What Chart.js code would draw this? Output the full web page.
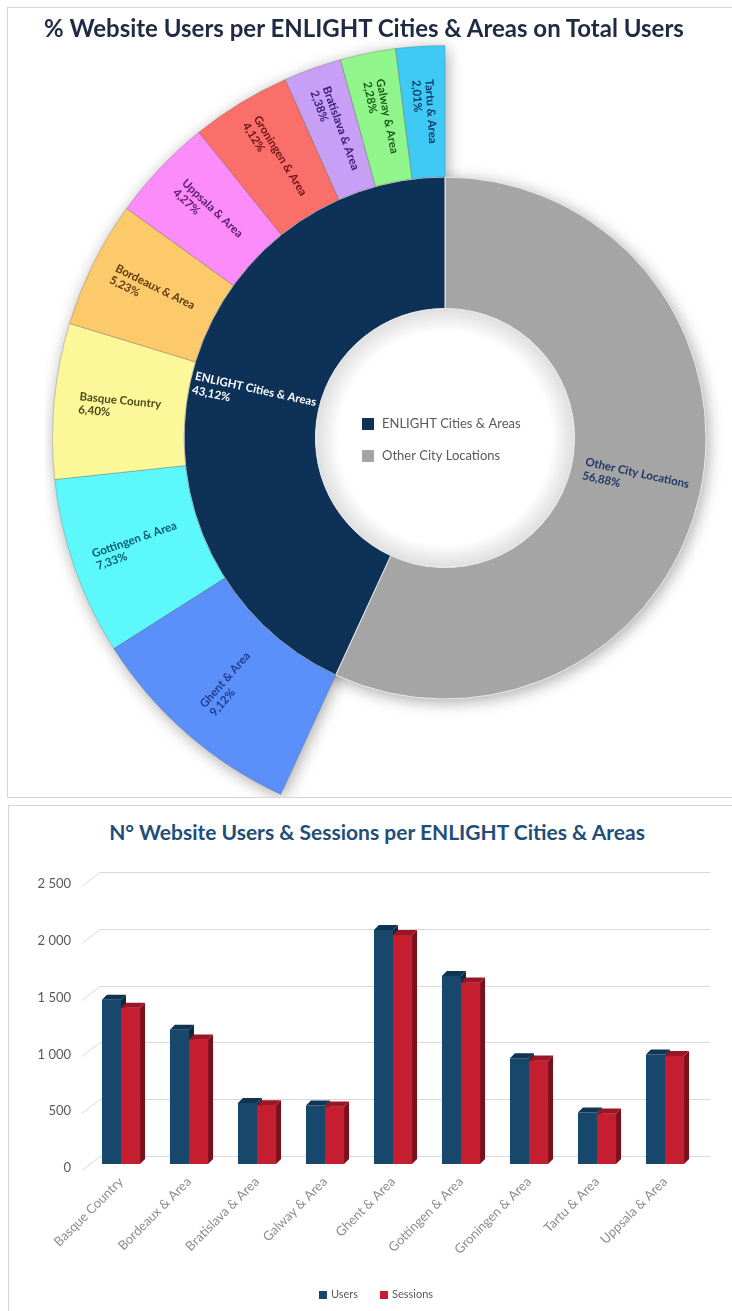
<!DOCTYPE html>
<html>
<head>
<meta charset="utf-8">
<script src="https://cdn.jsdelivr.net/npm/chart.js@4.4.1/dist/chart.umd.min.js"></script>
<style>
  html, body { margin: 0; padding: 0; background: #fff; overflow: hidden; }
  body { width: 732px; height: 1311px; position: relative; font-family: Lato, sans-serif; }
  #pieBox { position: absolute; left: 7px; top: 7px; width: 740px; height: 789px; border: 1px solid #d4d4d4; overflow: hidden; }
  #pieTitle { position: absolute; left: 0; top: 5px; width: 712px; text-align: center; font: bold 24px Lato, sans-serif; color: #1f2a44; z-index: 2; }
  #pieWrap { position: absolute; left: 37px; top: 30px; width: 800px; height: 800px; }
  #barBox { position: absolute; left: 8px; top: 805px; width: 740px; height: 520px; border: 1px solid #d4d4d4; }
  #barTitle { position: absolute; left: 0; top: 13px; width: 736px; line-height: 25px; text-align: center; font: bold 21px Lato, sans-serif; color: #1f4e79; }
  #barWrap { position: absolute; left: 0; top: 0; width: 723px; height: 505px; }
  #barLegend { position: absolute; left: 0; top: 481px; width: 734px; text-align: center; font: 11px Lato, sans-serif; color: #595959; line-height: 14px; }
  #barLegend span.item { display: inline-block; margin: 0 11px; }
  #barLegend span.box { display: inline-block; width: 8px; height: 8px; margin-right: 4px; vertical-align: -0.5px; }
</style>
</head>
<body>
<div id="pieBox">
  <div id="pieTitle">% Website Users per ENLIGHT Cities &amp; Areas on Total Users</div>
  <div id="pieWrap"><canvas id="pieChart"></canvas></div>
</div>
<div id="barBox">
  <div id="barTitle">N° Website Users &amp; Sessions per ENLIGHT Cities &amp; Areas</div>
  <div id="barWrap"><canvas id="barChart"></canvas></div>
  <div id="barLegend"></div>
</div>
<script>
// --- data: share of users (%), inner ring goes clockwise from 12 o'clock
const groupNames = ['Other City Locations', 'ENLIGHT Cities & Areas'];
const groupShares = [56.88, 43.12];

// outer ring, only over the ENLIGHT part
const cityNames = ['Ghent & Area', 'Gottingen & Area', 'Basque Country', 'Bordeaux & Area',
  'Uppsala & Area', 'Groningen & Area', 'Bratislava & Area', 'Galway & Area', 'Tartu & Area'];
const cityShares = [9.12, 7.33, 6.40, 5.23, 4.27, 4.12, 2.38, 2.28, 2.01];

// --- data: users & sessions per city
const barCities = ['Basque Country', 'Bordeaux & Area', 'Bratislava & Area', 'Galway & Area',
  'Ghent & Area', 'Gottingen & Area', 'Groningen & Area', 'Tartu & Area', 'Uppsala & Area'];
const users = [1446, 1181, 538, 515, 2060, 1656, 931, 454, 965];
const sessions = [1376, 1097, 518, 506, 2015, 1597, 912, 444, 950];
const yMax = 2500;
const yStep = 500;

// colours
const groupColors = ['#a5a5a5', '#0d3157'];
const groupText = ['#1f3864', '#ffffff'];
const cityColors = ['#5b8ff9', '#5cf8fc', '#fcf89a', '#fcca6a', '#fb8cf9', '#fb6f6a', '#c7a0f5', '#90f58a', '#3fcaf5'];
const cityText = ['#1f3b8f', '#0b5a6e', '#4d4a1a', '#5c3a10', '#5c1a6b', '#6b1515', '#3b1a7a', '#1d5a1a', '#0f3a6b'];

Chart.defaults.font.family = 'Lato, sans-serif';

const pct = v => v.toFixed(2).replace('.', ',') + '%';

// soft shadow under the whole sunburst
const pieShadow = {
  id: 'pieShadow',
  beforeDatasetsDraw(chart) {
    const ctx = chart.ctx;
    ctx.save();
    ctx.shadowColor = 'rgba(0,0,0,0.35)';
    ctx.shadowBlur = 16;
    ctx.shadowOffsetX = 2;
    ctx.shadowOffsetY = 3;
    ctx.fillStyle = '#ffffff';
    chart.data.datasets.forEach((ds, di) => {
      chart.getDatasetMeta(di).data.forEach((arc, i) => {
        if (ds.backgroundColor[i] === 'transparent') return;
        const p = arc.getProps(['x', 'y', 'startAngle', 'endAngle', 'outerRadius']);
        ctx.beginPath();
        ctx.moveTo(p.x, p.y);
        ctx.arc(p.x, p.y, p.outerRadius, p.startAngle, p.endAngle);
        ctx.closePath();
        ctx.fill();
      });
    });
    ctx.restore();
  }
};

// labels along the radius + legend in the hole
const pieLabels = {
  id: 'pieLabels',
  afterDatasetsDraw(chart) {
    const ctx = chart.ctx;
    const inner = chart.getDatasetMeta(1).data[0];
    const c = inner.getProps(['x', 'y', 'innerRadius']);

    // hole shading
    const g = ctx.createRadialGradient(c.x, c.y, 0, c.x, c.y, c.innerRadius);
    g.addColorStop(0, '#ffffff');
    g.addColorStop(0.82, '#ffffff');
    g.addColorStop(1, '#dedede');
    ctx.save();
    ctx.fillStyle = g;
    ctx.beginPath();
    ctx.arc(c.x, c.y, c.innerRadius - 0.5, 0, Math.PI * 2);
    ctx.fill();
    ctx.restore();

    chart.data.datasets.forEach((ds, di) => {
      chart.getDatasetMeta(di).data.forEach((arc, i) => {
        const name = ds.names[i];
        if (!name) return;
        const p = arc.getProps(['x', 'y', 'startAngle', 'endAngle', 'innerRadius', 'outerRadius']);
        const mid = (p.startAngle + p.endAngle) / 2;
        const r = (p.innerRadius + p.outerRadius) / 2;
        let rot = mid + Math.PI;
        while (rot > Math.PI) rot -= Math.PI * 2;
        while (rot <= -Math.PI) rot += Math.PI * 2;
        if (rot > Math.PI / 2 + 0.01) rot -= Math.PI;
        if (rot < -Math.PI / 2) rot += Math.PI;
        ctx.save();
        ctx.translate(p.x + r * Math.cos(mid), p.y + r * Math.sin(mid));
        ctx.rotate(rot);
        ctx.font = ds.labelFont;
        ctx.fillStyle = ds.textColors[i];
        ctx.textAlign = 'left';
        ctx.textBaseline = 'middle';
        const lines = [name, pct(ds.data[i])];
        const w = Math.max(...lines.map(t => ctx.measureText(t).width));
        lines.forEach((t, k) => ctx.fillText(t, -w / 2, (k - 0.5) * ds.lineGap));
        ctx.restore();
      });
    });

    // legend: ENLIGHT first, then Other
    ctx.save();
    ctx.font = '13px Lato, sans-serif';
    ctx.textBaseline = 'middle';
    ctx.textAlign = 'left';
    [1, 0].forEach((gi, row) => {
      const y = c.y - 14 + row * 32;
      ctx.fillStyle = groupColors[gi];
      ctx.fillRect(c.x - 83, y - 6, 12, 12);
      ctx.fillStyle = '#595959';
      ctx.fillText(groupNames[gi], c.x - 63, y);
    });
    ctx.restore();
  }
};

const outerShares = [groupShares[0]].concat(cityShares);

new Chart(document.getElementById('pieChart'), {
  type: 'doughnut',
  data: {
    datasets: [{
      data: outerShares,
      names: [null].concat(cityNames),
      backgroundColor: ['transparent'].concat(cityColors),
      textColors: ['#000'].concat(cityText),
      borderColor: 'rgba(80,80,80,0.3)',
      borderWidth: [0].concat(cityShares.map(() => 1)),
      labelFont: 'bold 11.5px Lato, sans-serif',
      lineGap: 13
    }, {
      data: groupShares,
      names: groupNames,
      backgroundColor: groupColors,
      textColors: groupText,
      borderColor: '#e8e8e8',
      borderWidth: 1,
      labelFont: 'bold 11.5px Lato, sans-serif',
      lineGap: 14
    }]
  },
  options: {
    responsive: true,
    maintainAspectRatio: false,
    animation: false,
    events: [],
    cutout: '33%',
    layout: { padding: 7 },
    elements: { arc: { hoverOffset: 0 } },
    plugins: { legend: { display: false }, tooltip: { enabled: false } }
  },
  plugins: [pieShadow, pieLabels]
});

// --- bar chart helpers
const faces = [
  { front: '#17476b', side: '#0c2b43', top: '#0f3552' },
  { front: '#c41e30', side: '#7c0f1b', top: '#9a1626' }
];

// perspective grid on the back wall
const backGrid = {
  id: 'backGrid',
  beforeDatasetsDraw(chart) {
    const ctx = chart.ctx;
    const ys = chart.scales.y;
    const a = chart.chartArea;
    ctx.save();
    ctx.strokeStyle = '#d9d9d9';
    ctx.lineWidth = 1;
    ys.ticks.forEach(t => {
      const y = Math.round(ys.getPixelForValue(t.value)) + 0.5;
      ctx.beginPath();
      ctx.moveTo(a.left - 5, y + 6);
      ctx.lineTo(a.left + 13, y - 8);
      ctx.lineTo(a.right + 11, y - 8);
      ctx.stroke();
    });
    ctx.restore();
  }
};

// fake 3D: right side and top of every bar
const bar3d = {
  id: 'bar3d',
  afterDatasetsDraw(chart) {
    const ctx = chart.ctx;
    const dx = 5, dy = -5;
    const m0 = chart.getDatasetMeta(0).data;
    const m1 = chart.getDatasetMeta(1).data;
    ctx.save();
    m0.forEach((b0, i) => {
      [b0, m1[i]].forEach((bar, k) => {
        const p = bar.getProps(['x', 'y', 'base', 'width']);
        const l = p.x - p.width / 2, r = p.x + p.width / 2;
        const f = faces[k];
        if (k === 1) {
          ctx.fillStyle = f.front;
          ctx.fillRect(l, p.y, p.width, p.base - p.y);
        }
        ctx.fillStyle = f.side;
        ctx.beginPath();
        ctx.moveTo(r, p.y);
        ctx.lineTo(r + dx, p.y + dy);
        ctx.lineTo(r + dx, p.base + dy);
        ctx.lineTo(r, p.base);
        ctx.closePath();
        ctx.fill();
        ctx.fillStyle = f.top;
        ctx.beginPath();
        ctx.moveTo(l, p.y);
        ctx.lineTo(l + dx, p.y + dy);
        ctx.lineTo(r + dx, p.y + dy);
        ctx.lineTo(r, p.y);
        ctx.closePath();
        ctx.fill();
      });
    });
    ctx.restore();
  }
};

const barChart = new Chart(document.getElementById('barChart'), {
  type: 'bar',
  data: {
    labels: barCities,
    datasets: [{
      label: 'Users',
      data: users,
      backgroundColor: faces[0].front
    }, {
      label: 'Sessions',
      data: sessions,
      backgroundColor: faces[1].front
    }]
  },
  options: {
    responsive: true,
    maintainAspectRatio: false,
    animation: false,
    events: [],
    layout: { padding: { left: 0, right: 33, top: 74, bottom: 39 } },
    datasets: { bar: { categoryPercentage: 0.56, barPercentage: 1 } },
    scales: {
      x: {
        grid: { display: false },
        border: { display: false },
        ticks: {
          color: '#8c8c8c',
          font: { size: 13 },
          minRotation: 45,
          maxRotation: 45,
          autoSkip: false,
          padding: 2
        },
        afterFit(scale) { scale.height = 108; }
      },
      y: {
        min: 0,
        max: yMax,
        grid: { display: false, drawTicks: false },
        border: { display: false },
        ticks: {
          stepSize: yStep,
          color: '#595959',
          font: { size: 13 },
          padding: 16,
          labelOffset: 4,
          callback: v => v >= 1000 ? Math.floor(v / 1000) + ' ' + String(v % 1000).padStart(3, '0') : String(v)
        },
        afterFit(scale) { scale.width = 78; }
      }
    },
    plugins: {
      title: { display: false },
      legend: { display: false },
      tooltip: { enabled: false }
    }
  },
  plugins: [backGrid, bar3d]
});

// legend under the bars, built from the chart's datasets
document.getElementById('barLegend').innerHTML = barChart.data.datasets.map(ds =>
  `<span class="item"><span class="box" style="background:${ds.backgroundColor}"></span>${ds.label}</span>`
).join('');
</script>
</body>
</html>
